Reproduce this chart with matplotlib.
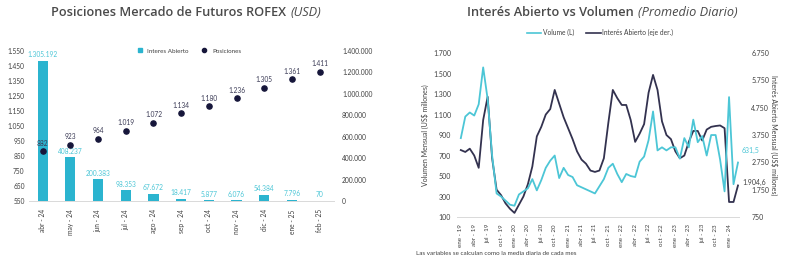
import numpy as np
import matplotlib
matplotlib.use("Agg")
import matplotlib.pyplot as plt
from matplotlib.lines import Line2D

# ---- left chart data ----
meses_izq = ["abr - 24", "may - 24", "jun - 24", "jul - 24", "ago - 24", "sep - 24",
             "oct - 24", "nov - 24", "dic - 24", "ene - 25", "feb - 25"]
interes_abierto = [1305192, 408237, 200383, 98353, 67672, 18417, 5877, 6076, 54384, 7796, 70]
posiciones = [882, 923, 964, 1019, 1072, 1134, 1180, 1236, 1305, 1361, 1411]

# ---- right chart data (monthly, ene-19 .. mar-24) ----
volumen = [870, 1080, 1120, 1090, 1200, 1560, 1250, 700, 330, 300,
           260, 220, 210, 320, 350, 380, 470, 360, 460, 580,
           650, 700, 480, 580, 510, 490, 410, 390, 370, 350,
           330, 400, 470, 580, 620, 520, 440, 520, 500, 490,
           640, 690, 850, 1130, 750, 780, 750, 780, 780, 670,
           870, 780, 1050, 830, 890, 700, 900, 900, 660, 350,
           1270, 420, 631.5]
interes_mensual = [3200, 3130, 3250, 3000, 2550, 4300, 5150, 2900, 1750, 1550,
                   1250, 1050, 900, 1200, 1500, 1950, 2600, 3700, 4050, 4500,
                   4700, 5400, 4900, 4400, 4000, 3600, 3150, 2850, 2700, 2450,
                   2400, 2450, 2900, 4200, 5400, 5100, 4850, 4850, 4300, 3500,
                   3800, 4150, 5300, 5950, 5400, 4250, 3750, 3600, 3150, 2900,
                   3000, 3500, 3900, 3900, 3550, 3950, 4050, 4080, 4100, 4000,
                   1300, 1300, 1904.6]
abrev = ["ene", "feb", "mar", "abr", "may", "jun", "jul", "ago", "sep", "oct", "nov", "dic"]
etiquetas_der = [f"{abrev[m % 12]} - {19 + m // 12}" for m in range(0, 61, 3)]

CYAN = "#2bb4cf"
CYAN_LINE = "#4cc6d6"
NAVY = "#16163a"
NAVY_LINE = "#33324f"
GREY = "#404040"

plt.rcParams['font.family'] = ['Lato', 'DejaVu Sans']


def miles(v):
    return f"{v:,.0f}".replace(",", ".")


def titulo(fig, x, y, normal, cursiva):
    r = fig.canvas.get_renderer()
    t1 = fig.text(x, y, normal, fontsize=9.2, color="#4a4a4a", ha="left", va="center",
                  fontweight="semibold", family=["Open Sans", "DejaVu Sans"])
    bb = t1.get_window_extent(r)
    x2 = fig.transFigure.inverted().transform((bb.x1 + 4, 0))[0]
    fig.text(x2, y, cursiva, fontsize=9.2, color="#4a4a4a", ha="left", va="center",
             style="italic", family=["Open Sans", "DejaVu Sans"])


fig = plt.figure(figsize=(8, 2.57), dpi=100)

# ---------------- left chart ----------------
ax1 = fig.add_axes([0.036, 0.218, 0.381, 0.584])
ax1b = ax1.twinx()
x = np.arange(len(meses_izq))
ax1b.bar(x, interes_abierto, width=0.37, color=CYAN, zorder=1)
ax1b.set_ylim(0, 1400000)
ax1b.set_yticks(np.arange(0, 1400001, 200000))
ax1b.set_yticklabels([miles(v) for v in np.arange(0, 1400001, 200000)])
for xi, v in zip(x, interes_abierto):
    ax1b.text(xi, v + 25000, miles(v), ha="center", va="bottom", fontsize=4.8, color=CYAN_LINE)

ax1.set_zorder(ax1b.get_zorder() + 1)
ax1.patch.set_visible(False)
ax1.scatter(x, posiciones, s=14, color=NAVY, zorder=3)
for xi, v in zip(x, posiciones):
    ax1.text(xi, v + 30, miles(v), ha="center", va="bottom", fontsize=4.8, color="#3a3a55")
ax1.set_ylim(550, 1550)
ax1.set_yticks(np.arange(550, 1551, 100))
ax1.set_yticklabels([miles(v) for v in np.arange(550, 1551, 100)])
ax1.set_xlim(-0.5, len(meses_izq) - 0.5)
ax1.set_xticks(x)
ax1.set_xticklabels(meses_izq, rotation=90, fontsize=4.5, color=GREY)

for a in (ax1, ax1b):
    for s in a.spines.values():
        s.set_visible(False)
    a.tick_params(length=0, labelsize=4.8, labelcolor=GREY, pad=3)
ax1.spines["bottom"].set_visible(True)
ax1.spines["bottom"].set_color("#d9d9d9")
ax1.spines["bottom"].set_linewidth(0.7)
ax1.tick_params(axis="x", pad=6)
ax1b.tick_params(axis="y", pad=6)

h1 = [Line2D([], [], marker="s", ls="", color=CYAN, markersize=3),
      Line2D([], [], marker="o", ls="", color=NAVY, markersize=3)]
ax1.legend(h1, ["Interes Abierto", "Posiciones"], loc="center", bbox_to_anchor=(0.52, 1.0),
           ncol=2, frameon=False, fontsize=4.5, handletextpad=0.2, columnspacing=1.5,
           labelcolor=GREY)

titulo(fig, 0.064, 0.953, "Posiciones Mercado de Futuros ROFEX", "(USD)")

# ---------------- right chart ----------------
ax2 = fig.add_axes([0.571, 0.1556, 0.3526, 0.638])
ax2b = ax2.twinx()
m = np.arange(len(volumen))
ax2b.plot(m, interes_mensual, color=NAVY_LINE, lw=1.3, zorder=2)
ax2.set_zorder(ax2b.get_zorder() + 1)
ax2.patch.set_visible(False)
ax2.plot(m, volumen, color=CYAN_LINE, lw=1.3, zorder=3)

ax2.set_xlim(-0.9, 62.2)
ax2.set_ylim(100, 1700)
ax2.set_yticks(np.arange(100, 1701, 200))
ax2.set_yticklabels([miles(v) for v in np.arange(100, 1701, 200)])
ax2b.set_ylim(750, 6750)
ax2b.set_yticks(np.arange(750, 6751, 1000))
ax2b.set_yticklabels([miles(v) for v in np.arange(750, 6751, 1000)])
ax2.set_xticks(np.arange(0, 61, 3))
ax2.set_xticklabels(etiquetas_der, rotation=90, fontsize=4.5, color=GREY)

for a in (ax2, ax2b):
    for s in a.spines.values():
        s.set_visible(False)
    a.tick_params(length=0, labelsize=5, labelcolor=GREY, pad=4)
ax2.spines["bottom"].set_visible(True)
ax2.spines["bottom"].set_color("#d9d9d9")
ax2.spines["bottom"].set_linewidth(0.7)
ax2.tick_params(axis="x", pad=5, labelsize=4.5)
ax2b.tick_params(axis="y", pad=9)

ax2.set_ylabel("Volumen Mensual (US$ millones)", fontsize=5, color=GREY, labelpad=3)
ax2b.set_ylabel("Interés Abierto Mensual (US$ millones)", fontsize=5, color=GREY,
                rotation=270, labelpad=6)

ax2.text(62.9, 754, "631,5", fontsize=5, color=CYAN_LINE, ha="left", va="center")
ax2.text(62.9, 441, "1.904,6", fontsize=5, color=GREY, ha="left", va="center")

h2 = [Line2D([], [], color=CYAN_LINE, lw=1.2), Line2D([], [], color=NAVY_LINE, lw=1.2)]
ax2.legend(h2, ["Volume (L)", "Interés Abierto (eje der.)"], loc="center",
           bbox_to_anchor=(0.507, 1.123), ncol=2, frameon=False, fontsize=4.8,
           handlelength=2.2, handletextpad=0.2, columnspacing=1.8, labelcolor=GREY)

titulo(fig, 0.584, 0.953, "Interés Abierto vs Volumen", "(Promedio Diario)")

fig.text(0.52, 0.014, "Las variables se calculan como la media diaria de cada mes",
         fontsize=4.5, color=GREY, ha="left", va="center")

fig.savefig("out.png", dpi=100, facecolor="white")
